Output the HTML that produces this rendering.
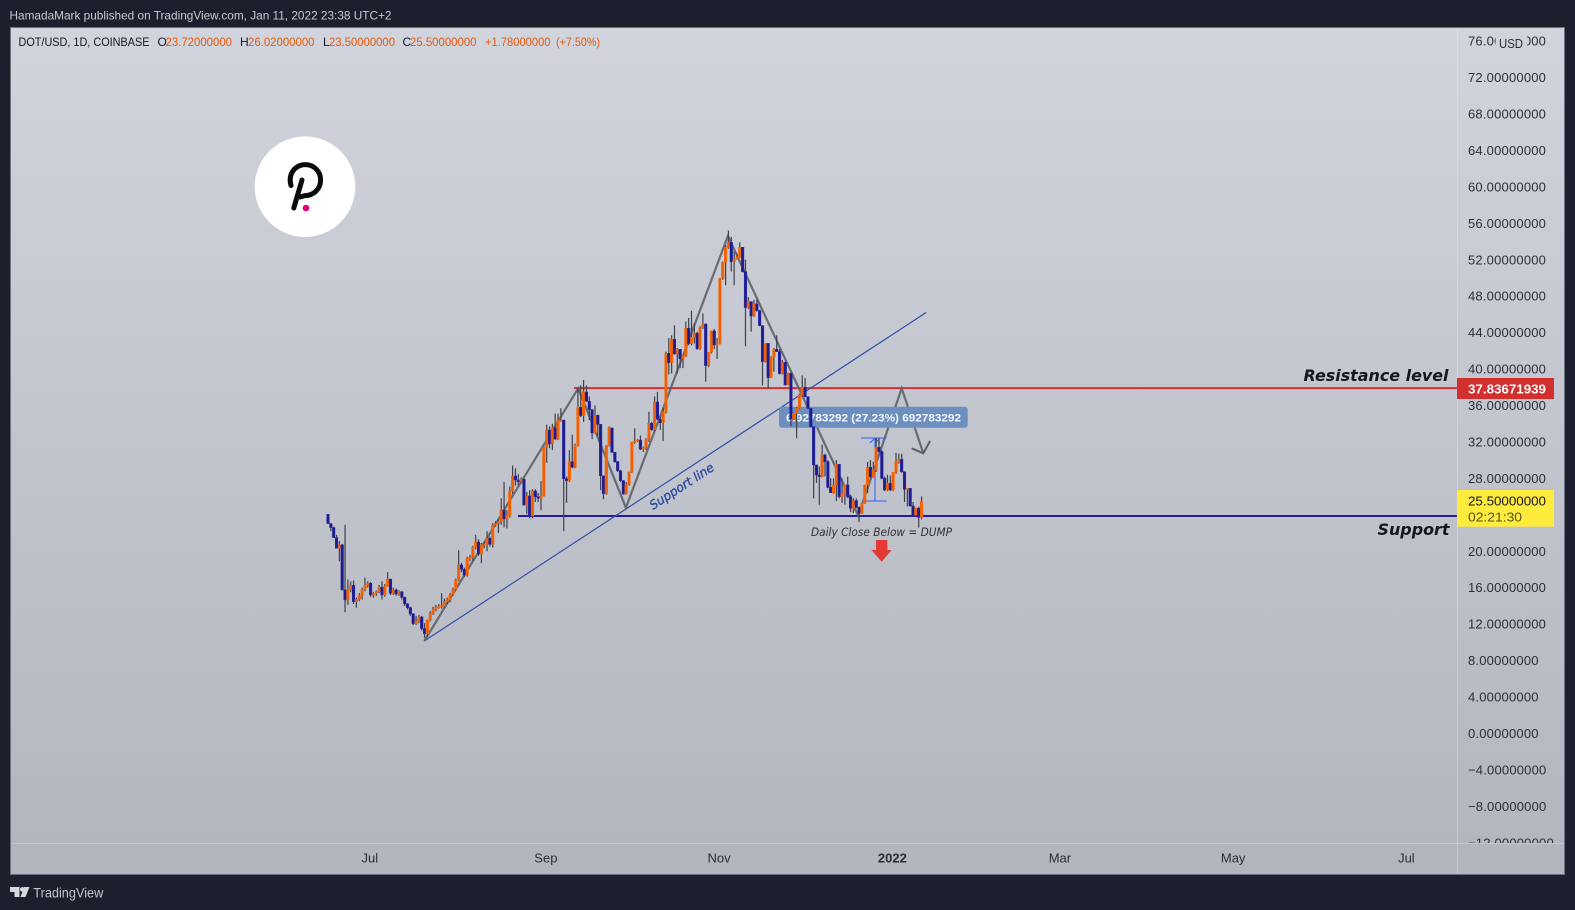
<!DOCTYPE html>
<html lang="en">
<head>
<meta charset="utf-8">
<title>DOT/USD chart</title>
<style>
html,body{margin:0;padding:0;background:#1c202c;width:1575px;height:910px;overflow:hidden}
svg{display:block;font-family:"Liberation Sans",sans-serif}
</style>
</head>
<body>
<svg id="chart" xmlns="http://www.w3.org/2000/svg" width="1575" height="910" viewBox="0 0 1575 910">
  <defs>
    <linearGradient id="paneBg" x1="0" y1="0" x2="0" y2="1">
      <stop offset="0" stop-color="#d1d4dc"/>
      <stop offset="1" stop-color="#b2b5be"/>
    </linearGradient>
    <clipPath id="axisClip"><rect x="1458" y="28" width="106" height="815"/></clipPath>
  </defs>
  <rect x="0" y="0" width="1575" height="910" fill="#1c202c"/>
  <text x="9.5" y="19.5" font-size="12" fill="#c8cad1" textLength="382" lengthAdjust="spacingAndGlyphs">HamadaMark published on TradingView.com, Jan 11, 2022 23:38 UTC+2</text>
  <rect x="10.5" y="27.5" width="1554" height="847" fill="url(#paneBg)" stroke="#6d7180" stroke-width="1"/>
  <line x1="1457.5" y1="28" x2="1457.5" y2="874" stroke="#fff" stroke-opacity=".22"/>
  <line x1="11" y1="843.5" x2="1564" y2="843.5" stroke="#fff" stroke-opacity=".22"/>

  <g id="yTicks" clip-path="url(#axisClip)"></g>
  <g id="xTicks"></g>
  <rect x="1495.5" y="32" width="31.5" height="21" fill="#d0d3da"/>
  <text x="1499" y="48" font-size="13" fill="#2a2e39" textLength="24" lengthAdjust="spacingAndGlyphs">USD</text>

  <g>
    <circle cx="305" cy="186.7" r="50.3" fill="#fff"/>
    <path d="M291 185.5 C287.5 173 296 164.6 305.5 164.6 C314.5 164.6 320.6 172 320.6 180 C320.6 189 313.5 195.6 305 195.6 L300 197" fill="none" stroke="#0b0b0b" stroke-width="5" stroke-linecap="round"/>
    <path d="M302 180 L293.8 208" fill="none" stroke="#0b0b0b" stroke-width="5" stroke-linecap="round"/>
    <circle cx="306" cy="208" r="3.3" fill="#e6007a"/>
  </g>

  <g id="drawings"></g>
  <g id="candles"></g>

  <text transform="translate(653 510) rotate(-33)" font-family="'DejaVu Sans',sans-serif" font-style="oblique" font-size="12.5" fill="#2848a0" stroke="#2848a0" stroke-width=".3" textLength="74" lengthAdjust="spacingAndGlyphs">Support line</text>
  <text x="1303.5" y="381" font-family="'DejaVu Sans',sans-serif" font-style="oblique" font-weight="bold" font-size="16" fill="#131722" textLength="145" lengthAdjust="spacingAndGlyphs">Resistance level</text>
  <text x="1377.5" y="535" font-family="'DejaVu Sans',sans-serif" font-style="oblique" font-weight="bold" font-size="16" fill="#131722" textLength="72" lengthAdjust="spacingAndGlyphs">Support</text>
  <text x="811" y="536" font-family="'DejaVu Sans',sans-serif" font-style="oblique" font-size="11.5" fill="#2e3038" textLength="141" lengthAdjust="spacingAndGlyphs">Daily Close Below = DUMP</text>
  <polygon points="876,540 887.3,540 887.3,550 891.7,550 881.7,561.7 871.3,550 876,550" fill="#e53935"/>

  <g font-size="12">
    <text x="18.5" y="46" fill="#131722" textLength="131" lengthAdjust="spacingAndGlyphs">DOT/USD, 1D, COINBASE</text>
    <text x="157.5" y="46" fill="#131722">O</text>
    <text x="165.5" y="46" fill="#e8590c" textLength="66.5" lengthAdjust="spacingAndGlyphs">23.72000000</text>
    <text x="240" y="46" fill="#131722">H</text>
    <text x="248" y="46" fill="#e8590c" textLength="66.5" lengthAdjust="spacingAndGlyphs">26.02000000</text>
    <text x="323" y="46" fill="#131722">L</text>
    <text x="329" y="46" fill="#e8590c" textLength="66" lengthAdjust="spacingAndGlyphs">23.50000000</text>
    <text x="402.5" y="46" fill="#131722">C</text>
    <text x="410" y="46" fill="#e8590c" textLength="66.5" lengthAdjust="spacingAndGlyphs">25.50000000</text>
    <text x="485" y="46" fill="#e8590c" textLength="65.5" lengthAdjust="spacingAndGlyphs">+1.78000000</text>
    <text x="556" y="46" fill="#e8590c" textLength="44" lengthAdjust="spacingAndGlyphs">(+7.50%)</text>
  </g>

  <g>
    <rect x="1457" y="378" width="97" height="21" fill="#d32f2f"/>
    <text x="1468" y="393.5" font-size="13" font-weight="bold" fill="#fff" textLength="78" lengthAdjust="spacingAndGlyphs">37.83671939</text>
  </g>
  <g>
    <rect x="1457" y="490" width="97" height="36.7" fill="#ffeb3b"/>
    <text x="1468" y="505.5" font-size="13" fill="#131722" textLength="78" lengthAdjust="spacingAndGlyphs">25.50000000</text>
    <text x="1468" y="521.5" font-size="13" fill="#57531c" textLength="54" lengthAdjust="spacingAndGlyphs">02:21:30</text>
  </g>

  <g>
    <path d="M10 887H19.5V897H14.5V892H10Z" fill="#d6d8de"/>
    <circle cx="22.3" cy="889.4" r="2.3" fill="#d6d8de"/>
    <path d="M24 887H29.5L25.5 897H20.5Z" fill="#d6d8de"/>
    <text x="33.3" y="897.5" font-size="13.5" fill="#c4c6cd" textLength="70" lengthAdjust="spacingAndGlyphs">TradingView</text>
  </g>
</svg>
<script>
const firstOpen = 24.05;
const closes = [
23.03,22.59,21.49,20.32,20.69,15.75,14.65,15.82,16.26,14.46,
14.72,15.09,15.82,16.26,16.48,15.2,15.34,15.56,16.04,15.2,
16.18,16.92,15.38,15.75,15.31,15.56,14.94,14.21,13.81,13.11,
12.05,12.34,12.78,11.5,10.95,12.45,13.18,13.55,13.88,13.92,
13.99,14.46,14.65,15.27,15.82,16.84,18.49,18.01,17.39,19.22,
19.3,20.43,21.01,19.7,20.69,20.75,21.42,20.76,22.88,23.03,
23.25,24.53,23.54,23.9,26.61,28.26,27.82,27.63,27.89,25.07,
26.06,23.87,26.61,25.99,25.8,26.06,31.4,33.3,31.77,33.56,
32.32,34.4,34.4,27.96,27.75,29.83,29.21,31.62,35.79,34.88,
37.48,36.45,35.54,32.98,34.92,33.93,28.29,26.32,31.62,33.53,
30.85,29.83,28.84,27.74,26.28,27.34,28.7,31.95,32.1,32.2,
31.2,31.4,32.2,34.04,33.34,36.38,34.48,34.11,35.25,41.72,
40.7,43.26,41.65,42.16,41.14,41.43,44.47,42.79,43.48,43.92,
42.24,44.58,44.94,40.37,41.83,44.18,42.64,42.82,49.96,51.71,
53.36,53.91,51.79,52.04,52.33,53.36,50.69,46.74,47.4,45.82,
47.14,46.41,44.76,40.81,42.82,39.05,41.28,42.16,41.91,39.5,
40.74,38.25,39.53,34.51,35.13,35.68,37.15,37.99,36.96,35.68,
33.67,29.46,28.36,28.18,30.56,29.83,27.01,26.42,27.27,29.54,
25.99,26.28,27.27,25.99,24.71,25.55,24.82,24.16,25.25,27.27,
29.21,28.18,28.91,31.4,30.93,28.0,26.72,27.45,26.72,28.66,
29.76,30.08,28.73,26.79,26.9,24.96,23.97,24.71,23.72,25.5];
const highs = [
24.05,23.1,22.7,21.8,21.1,20.8,22.9,16.9,16.7,16.8,
14.9,15.4,16.0,17.1,16.7,16.6,15.5,15.7,16.3,16.7,
16.4,17.7,17.0,16.0,15.9,15.7,15.6,15.0,14.3,13.9,
13.2,12.9,13.0,12.9,12.1,12.5,13.4,13.9,14.1,14.2,
15.4,14.8,14.9,15.4,16.0,17.0,20.1,18.7,18.2,19.4,
19.6,20.6,21.8,21.3,20.9,21.0,22.2,21.6,23.1,23.3,
23.5,25.8,27.6,24.5,27.1,29.4,29.1,28.5,28.1,28.0,
26.5,26.7,26.8,26.8,26.4,27.7,31.5,33.9,33.7,34.0,
35.1,35.1,35.7,34.4,28.2,31.1,32.8,31.8,37.9,38.2,
38.8,38.2,37.0,35.5,36.0,35.0,33.9,28.3,31.6,33.7,
33.5,30.9,29.9,28.9,27.8,27.6,28.7,32.0,33.5,32.3,
32.7,31.5,32.4,35.3,34.2,37.0,37.5,34.8,35.7,41.9,
43.4,43.7,44.8,42.3,42.2,41.5,45.2,45.6,46.4,45.0,
44.1,44.7,46.1,45.0,41.8,44.2,44.4,43.4,50.0,51.8,
53.6,55.2,54.5,52.9,52.7,53.9,53.4,52.0,47.9,47.4,
47.6,47.6,46.5,44.8,42.8,42.8,41.4,42.3,43.7,42.2,
41.0,40.8,39.6,39.6,35.2,35.8,37.3,39.3,39.0,37.0,
35.7,33.7,29.5,29.3,31.7,30.7,30.0,28.0,28.0,30.0,
29.5,28.0,27.3,28.2,26.2,25.8,25.8,24.9,25.3,27.3,
29.8,30.0,29.8,32.4,32.4,31.1,28.2,28.4,28.3,28.7,
30.8,30.7,30.7,28.7,26.9,26.9,25.4,24.8,24.9,26.02];
const lows = [
23.0,22.2,21.5,20.3,18.9,15.7,13.3,14.1,15.5,14.2,
13.8,14.5,14.7,15.6,16.0,15.0,14.9,15.1,15.4,14.7,
15.0,16.1,15.2,15.2,15.1,15.1,14.7,14.0,13.6,12.9,
11.9,11.9,12.1,11.3,10.5,10.6,12.3,13.0,13.4,13.7,
13.7,13.8,14.2,14.4,15.1,15.7,16.7,17.7,17.2,17.2,
18.9,18.9,20.2,19.5,18.7,20.3,20.0,20.5,20.4,22.7,
22.0,22.9,22.6,22.5,23.7,26.3,27.2,27.2,27.5,25.0,
24.1,23.6,23.6,25.4,25.4,24.5,26.0,29.7,31.3,31.1,
32.2,32.2,34.2,22.2,25.3,27.6,29.1,29.1,31.5,34.7,
34.2,36.4,34.4,32.3,32.9,32.6,26.7,25.7,26.2,31.5,
30.8,29.7,28.7,27.6,26.2,26.2,27.2,28.6,31.8,32.0,
31.1,30.9,31.1,32.0,33.2,33.2,34.4,33.3,32.1,35.1,
39.4,39.5,41.6,39.5,40.1,40.1,41.3,42.6,42.6,42.8,
42.1,42.1,44.4,38.6,40.2,41.7,42.2,41.1,42.7,49.8,
49.2,53.2,50.7,49.2,52.0,52.2,50.6,42.5,46.6,44.1,
45.7,46.3,44.7,38.2,40.7,37.8,39.0,39.7,41.9,39.4,
39.4,38.2,38.2,33.7,34.4,32.4,35.6,37.0,36.9,35.6,
33.6,25.8,27.5,25.1,28.1,28.2,26.9,26.4,26.3,25.5,
25.8,25.3,25.1,25.8,24.3,24.2,24.7,23.2,24.1,25.2,
26.4,28.0,28.1,28.7,30.8,27.9,26.6,26.6,26.6,26.6,
28.5,29.6,28.6,25.4,24.9,24.9,23.9,23.9,22.6,23.5];

const priceTicks = [76,72,68,64,60,56,52,48,44,40,36,32,28,24,20,16,12,8,4,0,-4,-8,-12];
const timeTickLabels = ["Jul","Sep","Nov","2022","Mar","May","Jul"];
const timeTickBars = [15,77,138,199,258,319,380];

const zigzagBars = [33.9,88.1,104.9,140.8,186.7,202,209.6];
const zigzagPrices = [10.14,37.88,24.78,54.6,23.9,37.88,30.75];
const arrowHeadBars = [205.5,209.6,212];
const arrowHeadPrices = [31.3,30.75,32.1];
const trendBars = [33.9,210.6];
const trendPrices = [10.14,46.2];
const resistanceLevel = 37.9;
const resistanceStartBar = 86.6;
const supportLevel = 23.87;
const supportStartBar = 66.9;
const lastAxisBar = 397.5;
const measureBar = 192.6;
const measureTop = 32.43;
const measureBottom = 25.51;
const measureTopBars = [187.7,196.7];
const measureBottomBars = [189.1,196.7];

const SVG_NS = "http://www.w3.org/2000/svg";
function xScale(bar){ return 328 + bar * 2.84; }
function yScale(price){ return 369 + (40 - price) * 9.11; }
function make(tag, attrs, parent){
  const el = document.createElementNS(SVG_NS, tag);
  for (const k in attrs) el.setAttribute(k, attrs[k]);
  parent.appendChild(el);
  return el;
}
function polyPoints(bars, prices){
  return bars.map(function(b, i){ return xScale(b).toFixed(1) + "," + yScale(prices[i]).toFixed(1); }).join(" ");
}

const yGroup = document.getElementById("yTicks");
priceTicks.forEach(function(p){
  const t = make("text", {x: 1468, y: yScale(p) + 4.6, "font-size": 13, fill: "#2a2e39", "letter-spacing": ".2"}, yGroup);
  
  
  t.textContent = (p < 0 ? "\u2212" + Math.abs(p) : p) + ".00000000";
});

const xGroup = document.getElementById("xTicks");
timeTickLabels.forEach(function(label, i){
  const t = make("text", {x: xScale(timeTickBars[i]) - 0.8, y: 862.5, "font-size": 13, fill: "#2a2e39", "text-anchor": "middle", "font-weight": label === "2022" ? "bold" : "normal"}, xGroup);
  
  
  t.textContent = label;
});

const dGroup = document.getElementById("drawings");

const resistance = make("line", {x1: xScale(resistanceStartBar), x2: xScale(lastAxisBar), y1: yScale(resistanceLevel), y2: yScale(resistanceLevel), stroke: "#d32f2f", "stroke-width": 2}, dGroup);



const support = make("line", {x1: xScale(supportStartBar), x2: xScale(lastAxisBar), y1: yScale(supportLevel), y2: yScale(supportLevel), stroke: "#2a1a96", "stroke-width": 2}, dGroup);



const trend = make("polyline", {points: polyPoints(trendBars, trendPrices), fill: "none", stroke: "#2b4fa8", "stroke-width": 1.2}, dGroup);



const zigzag = make("polyline", {points: polyPoints(zigzagBars, zigzagPrices), fill: "none", stroke: "#5e6068", "stroke-width": 2.2, "stroke-opacity": ".9"}, dGroup);



const arrowHead = make("polyline", {points: polyPoints(arrowHeadBars, arrowHeadPrices), fill: "none", stroke: "#5e6068", "stroke-width": 2}, dGroup);



const mx = xScale(measureBar), myT = yScale(measureTop), myB = yScale(measureBottom);
const measureV = make("line", {x1: mx, x2: mx, y1: myT, y2: myB, stroke: "#2962ff", "stroke-width": 1}, dGroup);


const measureT = make("line", {x1: xScale(measureTopBars[0]), x2: xScale(measureTopBars[1]), y1: myT, y2: myT, stroke: "#2962ff", "stroke-width": 1}, dGroup);


const measureB = make("line", {x1: xScale(measureBottomBars[0]), x2: xScale(measureBottomBars[1]), y1: myB, y2: myB, stroke: "#2962ff", "stroke-width": 1}, dGroup);


const measureA = make("polyline", {points: (mx - 5) + "," + (myT + 5) + " " + mx + "," + myT + " " + (mx + 5) + "," + (myT + 5), fill: "none", stroke: "#2962ff", "stroke-width": 1}, dGroup);



const rangeBox = make("rect", {x: 779, y: 406.7, width: 188.7, height: 21, rx: 3, fill: "#6c8fc0"}, dGroup);


const rangeText = make("text", {x: 786, y: 421.5, "font-size": 11, "font-weight": "bold", fill: "#f4f6fb", textLength: 175, lengthAdjust: "spacingAndGlyphs"}, dGroup);


rangeText.textContent = "6.92783292 (27.23%) 692783292";

const cGroup = document.getElementById("candles");
closes.forEach(function(c, i){
  const o = i === 0 ? firstOpen : closes[i - 1];
  const up = c >= o;
  const x = xScale(i);
  const g = make("g", {}, cGroup);
  
  
  const wick = make("line", {x1: x, x2: x, y1: yScale(highs[i]), y2: yScale(lows[i]), stroke: "#3e414c", "stroke-width": 1.2}, g);
  
  
  const top = yScale(Math.max(o, c));
  const h = Math.max(Math.abs(yScale(o) - yScale(c)), 1);
  const body = make("rect", {x: x - 1.3, y: top, width: 2.6, height: h, fill: up ? "#ee5f08" : "#1f1b8c", stroke: up ? "#ff6a00" : "#2a2aa8", "stroke-width": 0.5}, g);
  
  
});
</script>
</body>
</html>
